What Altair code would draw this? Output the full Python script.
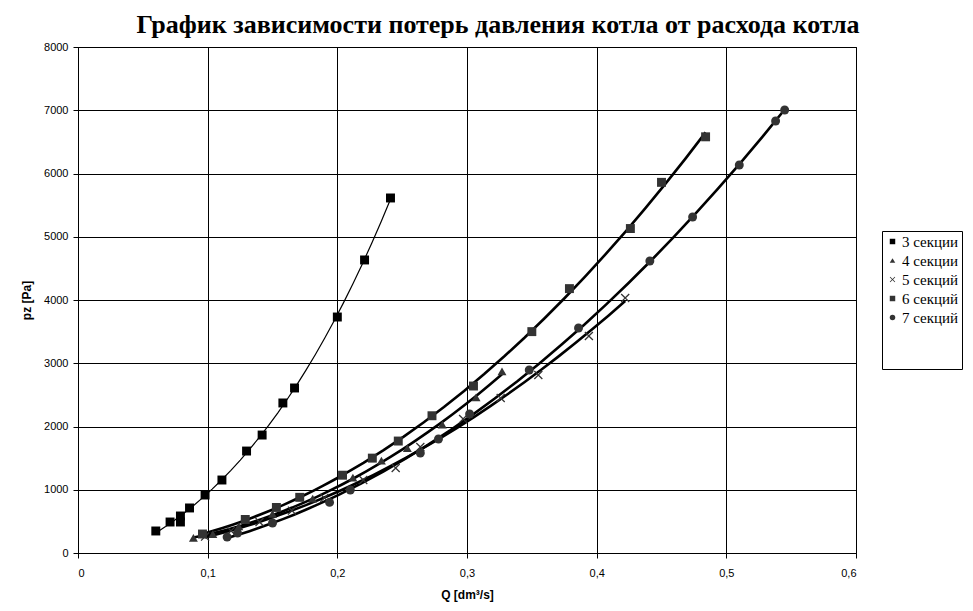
import altair as alt
import pandas as pd

# ---- data ----
series_names = ["3 секции", "4 секции", "5 секций", "6 секций", "7 секций"]

q3 = [0.060, 0.071, 0.079, 0.079, 0.086, 0.098, 0.111, 0.130, 0.142, 0.158, 0.167, 0.200, 0.221, 0.241]
p3 = [348, 490, 585, 490, 712, 917, 1154, 1612, 1865, 2372, 2609, 3731, 4633, 5613]

q4 = [0.089, 0.104, 0.124, 0.150, 0.181, 0.212, 0.234, 0.254, 0.281, 0.307, 0.327]
p4 = [240, 300, 420, 620, 860, 1190, 1460, 1660, 2030, 2460, 2870]

q5 = [0.098, 0.118, 0.140, 0.165, 0.190, 0.220, 0.245, 0.264, 0.297, 0.326, 0.355, 0.394, 0.422]
p5 = [260, 350, 490, 670, 870, 1154, 1344, 1676, 2119, 2450, 2814, 3431, 4032]

q6 = [0.096, 0.129, 0.153, 0.171, 0.204, 0.227, 0.247, 0.273, 0.305, 0.350, 0.379, 0.426, 0.450, 0.484]
p6 = [300, 530, 720, 880, 1230, 1500, 1770, 2170, 2640, 3500, 4180, 5130, 5860, 6580]

q7 = [0.115, 0.123, 0.150, 0.194, 0.210, 0.264, 0.278, 0.302, 0.348, 0.386, 0.441, 0.474, 0.510, 0.538, 0.545]
p7 = [253, 316, 474, 800, 996, 1581, 1802, 2198, 2893, 3557, 4617, 5312, 6134, 6830, 7004]

x_ticks = [0, 0.1, 0.2, 0.3, 0.4, 0.5, 0.6]
y_ticks = [0, 1000, 2000, 3000, 4000, 5000, 6000, 7000, 8000]

rows = []
for name, qs, ps in zip(series_names, [q3, q4, q5, q6, q7], [p3, p4, p5, p6, p7]):
    for q, p in zip(qs, ps):
        rows.append({"series": name, "q": q, "p": p})
df = pd.DataFrame(rows)

xcross = "M-1,-0.8L-0.8,-1L0,-0.2L0.8,-1L1,-0.8L0.2,0L1,0.8L0.8,1L0,0.2L-0.8,1L-1,0.8L-0.2,0Z"
shapes = ["square", "triangle-up", xcross, "square", "circle"]
colors = ["#000000", "#333333", "#333333", "#333333", "#333333"]

legend = alt.Legend(
    title=" ", titleOrient="bottom", titleFontSize=38, titlePadding=2,
    orient="none", legendX=804, legendY=184,
    strokeColor="#000000", padding=3, symbolSize=30, symbolStrokeWidth=0,
    labelFont="Liberation Serif", labelFontSize=15, labelColor="#000000",
    rowPadding=3, labelOffset=2, fillColor="#ffffff", labelLimit=300,
)

xenc = alt.X("q:Q", scale=alt.Scale(domain=[0, 0.6], nice=False),
             axis=alt.Axis(values=x_ticks, title="Q [dm³/s]",
                           labelExpr="datum.value == 0 ? '0' : replace(format(datum.value, '.1f'), '.', ',')"))
yenc = alt.Y("p:Q", scale=alt.Scale(domain=[0, 8000], nice=False),
             axis=alt.Axis(values=y_ticks, title="pz [Pa]", format="d"))

base = alt.Chart(df)

lines_thin = base.transform_filter(alt.datum.series == "3 секции").transform_regression(
    "q", "p", groupby=["series"], method="poly", order=3
).mark_line(color="#000000", strokeWidth=1.2).encode(x=xenc, y=yenc, detail="series:N")

lines_thick = base.transform_filter(alt.datum.series != "3 секции").transform_regression(
    "q", "p", groupby=["series"], method="poly", order=2
).mark_line(color="#000000", strokeWidth=2.6).encode(x=xenc, y=yenc, detail="series:N")

points = base.mark_point(filled=True, size=80, opacity=1).encode(
    x=xenc, y=yenc,
    color=alt.Color("series:N", scale=alt.Scale(domain=series_names, range=colors), legend=legend),
    shape=alt.Shape("series:N", scale=alt.Scale(domain=series_names, range=shapes), legend=legend),
)

chart = alt.layer(lines_thin, lines_thick, points).properties(
    width=778, height=506,
    padding={"left": 70, "top": 39, "right": 109, "bottom": 50},
    autosize=alt.AutoSizeParams(type="none"),
    background="#ffffff",
    title=alt.TitleParams(
        "График зависимости потерь давления котла от расхода котла",
        font="Liberation Serif", fontSize=26, fontWeight="bold", color="#000000",
        anchor="middle", offset=3, dx=31,
    ),
).configure_view(stroke="#000000", strokeWidth=1).configure_axis(
    grid=True, gridColor="#000000", gridWidth=1, gridOpacity=1,
    domainColor="#000000", tickColor="#000000", tickSize=5,
    labelFont="Liberation Sans", labelFontSize=11, labelColor="#000000",
    titleFont="Liberation Sans", titleFontSize=12, titleFontWeight="bold", titleColor="#000000",
).configure_axisX(labelPadding=9, titlePadding=11).configure_axisY(labelPadding=5, titlePadding=10)

chart.save("out.html", embed_options={"renderer": "svg", "actions": False})
